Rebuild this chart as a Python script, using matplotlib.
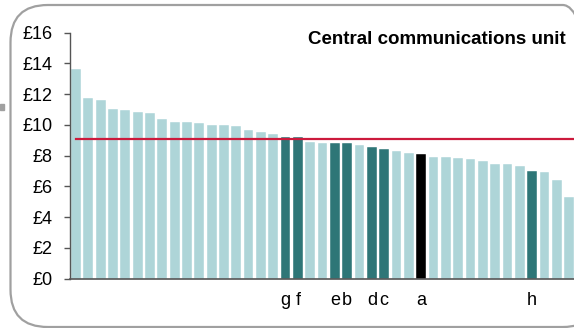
import matplotlib
matplotlib.use("Agg")
import matplotlib.pyplot as plt
from matplotlib.patches import FancyBboxPatch, Rectangle

values = [13.62, 11.73, 11.64, 11.04, 10.97, 10.82, 10.76, 10.41, 10.21, 10.20,
          10.10, 10.00, 10.00, 9.91, 9.65, 9.52, 9.43, 9.20, 9.20, 8.91,
          8.85, 8.83, 8.80, 8.70, 8.58, 8.42, 8.31, 8.20, 8.11, 7.90,
          7.90, 7.85, 7.81, 7.64, 7.48, 7.46, 7.31, 6.98, 6.94, 6.42, 5.31]
labels = {17: "g", 18: "f", 21: "e", 22: "b", 24: "d", 25: "c", 28: "a", 37: "h"}
black_labels = ["a"]
average = 9.07
title = "Central communications unit"
yticks = [0, 2, 4, 6, 8, 10, 12, 14, 16]
ytick_labels = ["£" + str(v) for v in yticks]

light = "#aed5d8"
dark = "#2e7677"
red = "#cc1a3c"

plt.rcParams["font.family"] = ["Liberation Sans", "DejaVu Sans"]

W, H = 574, 328
fig = plt.figure(figsize=(W / 100, H / 100), dpi=100)

frame = FancyBboxPatch((10.5 / W, 1 - 327 / H), (600 - 10.5) / W, (327 - 5) / H,
                       boxstyle="round,pad=0,rounding_size=0.065",
                       transform=fig.transFigure, fill=False,
                       edgecolor="#a0a0a0", linewidth=1.6,
                       mutation_aspect=W / H)
fig.patches.append(frame)
fig.patches.append(Rectangle((0, 1 - 110 / H), 4 / W, 6 / H,
                             transform=fig.transFigure, color="#a0a0a0"))

ax = fig.add_axes([70 / W, (H - 278.7) / H, (574 - 70) / W, (278.7 - 32.7) / H])

xs = list(range(len(values)))
colors = []
for i in xs:
    if i in labels:
        colors.append("black" if labels[i] in black_labels else dark)
    else:
        colors.append(light)
ax.bar(xs, values, width=0.8, color=colors, edgecolor="white", linewidth=0.3, zorder=2)

xmax = 40.39
ax.plot([-0.03, xmax], [average, average], color=red, linewidth=1.6, zorder=3, clip_on=False)

ax.set_xlim(-0.48, xmax)
ax.set_ylim(0, 16)
ax.set_yticks(yticks)
ax.set_yticklabels(ytick_labels, fontsize=13)
ax.tick_params(axis="y", direction="out", length=4, width=1, color="#555555", pad=8.5)
tick_pos = sorted(labels.keys())
ax.set_xticks(tick_pos)
ax.set_xticklabels([labels[i] for i in tick_pos], fontsize=13)
ax.tick_params(axis="x", length=0, pad=9.5)

for s in ["top", "right"]:
    ax.spines[s].set_visible(False)
ax.spines["left"].set_color("#555555")
ax.spines["bottom"].set_color("#555555")
ax.spines["left"].set_linewidth(1.0)
ax.spines["bottom"].set_linewidth(1.2)
ax.set_facecolor("none")

fig.text(565.5 / W, 1 - 43.5 / H, title, ha="right", va="baseline",
         fontsize=13.5, fontweight="bold")

fig.savefig("out.png", dpi=100)
